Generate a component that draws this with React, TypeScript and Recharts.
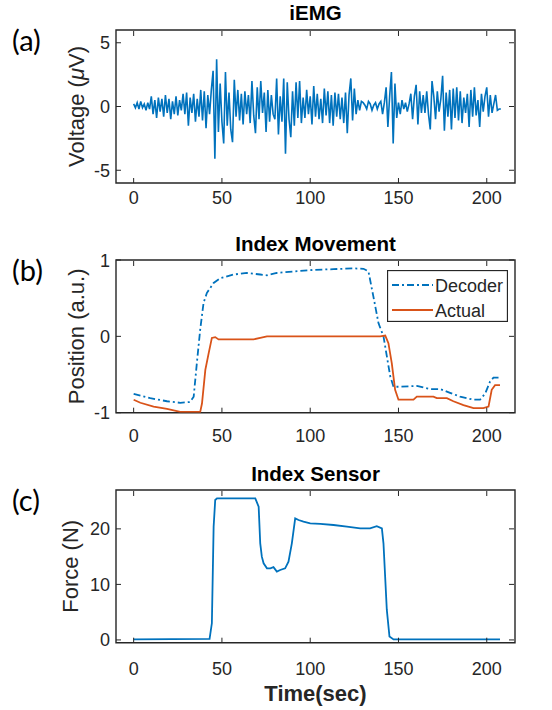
import React from "react";
import { LineChart, Line, XAxis, YAxis, Legend, ReferenceArea } from "recharts";

// ---------- data ----------
const xTicks = [0, 50, 100, 150, 200];

// iEMG (µV), one sample per second, t = 0..208
const emgValues = [
  0.2, -0.1, 0.3, -0.2, 0.4, -0.1, 0.2, -0.3, 0.3, -0.2,
  0.8, -0.6, 0.5, -0.9, 0.7, -0.4, 0.6, -0.8, 0.9, -0.5,
  0.6, -1.0, 0.4, -0.6, 0.8, -0.7, 0.5, -0.3, 1.0, -0.6,
  1.1, -1.5, 0.7, -0.5, 1.0, -1.2, 0.6, -0.8, 1.3, -1.1,
  1.2, -1.7, 0.9, -0.6, 1.3, 2.8, -4.1, 3.7, -2.0, 1.8,
  -1.2, -2.9, 2.7, -1.5, 1.1, -1.8, -2.8, 2.1, -0.8, 1.3,
  -1.1, 1.0, -1.4, 1.2, -0.6, 0.9, -1.3, 2.0, -0.7, -2.1,
  1.5, -1.0, 2.0, -0.5, 1.1, -2.0, 1.3, -1.2, 0.9, -0.6,
  -1.0, 2.2, -2.2, 0.8, -1.2, 2.2, -3.7, 1.9, -1.0, -2.4,
  1.2, -1.5, 1.9, -0.9, 2.0, -1.3, 0.7, -0.9, 1.3, -0.6,
  0.8, -1.4, 1.6, -0.8, 1.0, -1.0, 0.6, -1.3, 1.4, -0.7,
  1.2, -1.3, 0.9, -1.5, 1.1, -0.8, 1.0, -1.0, 0.7, -1.3,
  1.1, -2.1, 0.9, 2.2, -1.1, 1.4, -0.6, 0.5, -0.3, 0.4,
  0.3, 0.1, -0.2, 0.4, 0.2, -0.3, 0.1, 0.3, -0.2, 0.2,
  0.4, -0.6, 0.3, 1.5, -1.6, 0.8, 2.7, -2.9, 1.8, -0.9,
  0.3, -0.6, 0.5, -0.2, 0.3, -0.4, 0.2, 1.0, -1.0, 0.8,
  1.7, -1.4, 1.2, -0.5, 0.9, -0.5, 1.2, -0.6, -1.8, 2.0,
  0.8, -1.0, 1.2, -0.4, 0.6, 2.4, -1.9, 1.1, -0.8, 1.3,
  -1.8, 1.4, -0.9, 1.5, -1.1, 1.2, -1.3, 0.7, -0.5, 1.0,
  -1.6, 1.3, -0.8, 1.5, -0.7, 0.5, -1.6, 1.0, -0.4, 0.8,
  1.5, -0.8, 0.9, -0.5, 0.2, 0.9, -0.3, -0.2, -0.2,
];

// Index movement: decoder
const decTime = [0, 9.4, 18.9, 26.4, 32, 34, 35.8, 37.7, 39.6, 41.5, 45.3, 49, 56.6, 64.2, 71.7, 75.5, 81.1, 90.6, 101.9, 113.2, 124.5, 130.2, 133, 135.8, 138.7, 141.5, 143.4, 145.3, 147.2, 150.9, 160.4, 167.9, 173.6, 179.2, 184.9, 192.5, 196.2, 199.1, 201.9, 203.8, 207.5];
const decValues = [-0.755, -0.81, -0.85, -0.87, -0.86, -0.79, -0.35, 0.09, 0.44, 0.57, 0.7, 0.76, 0.81, 0.83, 0.81, 0.8, 0.83, 0.85, 0.87, 0.88, 0.89, 0.885, 0.85, 0.52, 0.17, 0, -0.26, -0.52, -0.66, -0.66, -0.65, -0.69, -0.69, -0.74, -0.79, -0.83, -0.83, -0.75, -0.59, -0.54, -0.54];

// Index movement: actual
const actTime = [0, 3.8, 11.3, 18.9, 26.4, 37.7, 38.7, 40.6, 42.5, 44.3, 46.2, 48.1, 56.6, 67.9, 71.7, 75.5, 139.6, 142.5, 144.3, 146.2, 148.1, 150, 158.5, 160.4, 169.8, 171.7, 177.4, 181.1, 186.8, 192.5, 198.1, 201, 202.8, 204.7, 207.5];
const actValues = [-0.83, -0.87, -0.92, -0.95, -0.99, -0.99, -0.88, -0.44, -0.22, -0.02, -0.01, -0.04, -0.04, -0.04, -0.02, 0, 0, 0.01, -0.09, -0.35, -0.7, -0.83, -0.83, -0.79, -0.79, -0.81, -0.81, -0.85, -0.9, -0.94, -0.94, -0.92, -0.7, -0.64, -0.64];

// Index sensor force (N)
const forceTime = [0, 43, 44.3, 45.3, 46.2, 47.2, 68.9, 70.8, 71.7, 72.6, 73.6, 75.5, 77.4, 79.2, 81.1, 83, 85.8, 87.7, 89.6, 91.5, 93.4, 96.2, 100, 105.7, 113.2, 120.8, 128.3, 133.9, 137.7, 140.6, 141.5, 143.4, 144.9, 147.2, 207.5];
const forceValues = [0.1, 0.2, 3, 20.4, 25.2, 25.5, 25.5, 24, 17.4, 15, 13.8, 12.9, 12.9, 13.1, 12.3, 12.6, 12.9, 14.1, 17.4, 21.9, 21.6, 21.3, 21.0, 20.9, 20.7, 20.4, 20.1, 20.1, 20.5, 20.1, 17.4, 5.4, 0.6, 0.1, 0.1];

// ---------- tables built from the arrays ----------
const emgData = emgValues.map((v, i) => ({ t: i, v }));
const decData = decTime.map((t, i) => ({ t, v: decValues[i] }));
const actData = actTime.map((t, i) => ({ t, v: actValues[i] }));
const forceData = forceTime.map((t, i) => ({ t, v: forceValues[i] }));

// ---------- styling ----------
const AX = "#262626";
const BLUE = "#0072BD";
const ORANGE = "#D95319";
const FONT = "'Liberation Sans', Arial, Helvetica, sans-serif";
const W = 552;
const XDOM: [number, number] = [-10, 216];
const TL = 5;
const MARGIN = { top: 29, right: 36, left: 56, bottom: 17 };

const makeBottomTick = (dy: number) => (p: any) => (
  <g>
    <line x1={p.x} x2={p.x} y1={p.y} y2={p.y - TL} stroke={AX} strokeWidth={1} />
    <text x={p.x} y={p.y + dy} textAnchor="middle" fontFamily={FONT} fontSize={18} fill={AX}>
      {p.payload.value}
    </text>
  </g>
);
const topTick = (p: any) => (
  <line x1={p.x} x2={p.x} y1={p.y + 1} y2={p.y + 1 + TL} stroke={AX} strokeWidth={1} />
);
const leftTick = (p: any) => (
  <g>
    <line x1={p.x} x2={p.x + TL} y1={p.y} y2={p.y} stroke={AX} strokeWidth={1} />
    <text x={p.x - 6} y={p.y + 6.5} textAnchor="end" fontFamily={FONT} fontSize={18} fill={AX}>
      {p.payload.value}
    </text>
  </g>
);
const rightTick = (p: any) => (
  <line x1={p.x - 1} x2={p.x - 1 - TL} y1={p.y} y2={p.y} stroke={AX} strokeWidth={1} />
);

const yLabel = (content: React.ReactNode, bx: number) => ({
  content: (props: any) => {
    const vb = props.viewBox || {};
    const cy = vb.y + vb.height / 2;
    return (
      <text
        transform={`translate(${bx},${cy}) rotate(-90)`}
        textAnchor="middle"
        fontFamily={FONT}
        fontSize={22}
        fill={AX}
      >
        {content}
      </text>
    );
  },
});

const timeLabel = {
  value: "Time(sec)",
  position: "insideBottom",
  content: (props: any) => {
    const vb = props.viewBox || {};
    return (
      <text
        x={vb.x + vb.width / 2}
        y={vb.y + 58}
        textAnchor="middle"
        fontFamily={FONT}
        fontSize={22}
        fontWeight="bold"
        fill={AX}
      >
        Time(sec)
      </text>
    );
  },
};

const LegendBox = () => (
  <svg width={121} height={52} style={{ display: "block" }}>
    <rect x={0.5} y={0.5} width={120} height={51} fill="#fff" stroke={AX} strokeWidth={1.3} />
    <line x1={5} x2={46} y1={15} y2={15} stroke={BLUE} strokeWidth={1.8} strokeDasharray="7 3 2 3" />
    <text x={48} y={21.5} fontFamily={FONT} fontSize={18} fill={AX}>Decoder</text>
    <line x1={5} x2={46} y1={40} y2={40} stroke={ORANGE} strokeWidth={1.8} />
    <text x={48} y={46.5} fontFamily={FONT} fontSize={18} fill={AX}>Actual</text>
  </svg>
);

export default function App() {
  return (
    <div style={{ position: "absolute", left: 0, top: 0, width: W, height: 710, background: "#fff" }}>
      {/* (a) iEMG */}
      <div style={{ position: "absolute", left: 0, top: 0 }}>
        <LineChart width={W} height={230} data={emgData} margin={MARGIN}>
          <XAxis xAxisId="b" dataKey="t" type="number" domain={XDOM} ticks={xTicks} allowDataOverflow height={30} tickSize={0} tickMargin={0} tickLine={false} axisLine={false} tick={makeBottomTick(21)} interval={0} />
          <XAxis xAxisId="t" dataKey="t" orientation="top" type="number" domain={XDOM} ticks={xTicks} allowDataOverflow height={1} tickSize={0} tickMargin={0} tickLine={false} axisLine={false} tick={topTick} interval={0} />
          <YAxis yAxisId="l" type="number" domain={[-6, 6]} ticks={[-5, 0, 5]} allowDataOverflow width={60} tickSize={0} tickMargin={0} tickLine={false} axisLine={false} tick={leftTick} interval={0}
            label={yLabel(<>{"Voltage ("}<tspan fontStyle="italic">μ</tspan>{"V)"}</>, 83.5)} />
          <YAxis yAxisId="r" orientation="right" type="number" domain={[-6, 6]} ticks={[-5, 0, 5]} allowDataOverflow width={1} tickSize={0} tickMargin={0} tickLine={false} axisLine={false} tick={rightTick} interval={0} />
          <ReferenceArea xAxisId="b" yAxisId="l" x1={XDOM[0]} x2={XDOM[1]} y1={-6} y2={6} fill="none" stroke={AX} strokeWidth={1.4} ifOverflow="visible" />
          <Line xAxisId="t" yAxisId="r" dataKey="v" stroke="none" dot={false} activeDot={false} legendType="none" isAnimationActive={false} />
          <Line xAxisId="b" yAxisId="l" dataKey="v" stroke={BLUE} strokeWidth={1.6} dot={false} isAnimationActive={false} type="linear" />
        </LineChart>
      </div>

      {/* (b) Index Movement */}
      <div style={{ position: "absolute", left: 0, top: 230 }}>
        <LineChart width={W} height={230} margin={{ ...MARGIN, bottom: 17.3 }}>
          <XAxis xAxisId="b" dataKey="t" type="number" domain={XDOM} ticks={xTicks} allowDataOverflow height={30} tickSize={0} tickMargin={0} tickLine={false} axisLine={false} tick={makeBottomTick(29)} interval={0} />
          <XAxis xAxisId="t" dataKey="t" orientation="top" type="number" domain={XDOM} ticks={xTicks} allowDataOverflow height={1} tickSize={0} tickMargin={0} tickLine={false} axisLine={false} tick={topTick} interval={0} />
          <YAxis yAxisId="l" type="number" domain={[-1, 1]} ticks={[-1, 0, 1]} allowDataOverflow width={60} tickSize={0} tickMargin={0} tickLine={false} axisLine={false} tick={leftTick} interval={0}
            label={yLabel("Position (a.u.)", 83.5)} />
          <YAxis yAxisId="r" orientation="right" type="number" domain={[-1, 1]} ticks={[-1, 0, 1]} allowDataOverflow width={1} tickSize={0} tickMargin={0} tickLine={false} axisLine={false} tick={rightTick} interval={0} />
          <ReferenceArea xAxisId="b" yAxisId="l" x1={XDOM[0]} x2={XDOM[1]} y1={-1} y2={1} fill="none" stroke={AX} strokeWidth={1.4} ifOverflow="visible" />
          <Line xAxisId="t" yAxisId="r" data={decData} dataKey="v" stroke="none" dot={false} activeDot={false} legendType="none" isAnimationActive={false} />
          <Line xAxisId="b" yAxisId="l" data={decData} dataKey="v" name="Decoder" stroke={BLUE} strokeWidth={1.8} strokeDasharray="7 3 2 3" dot={false} isAnimationActive={false} type="linear" />
          <Line xAxisId="b" yAxisId="l" data={actData} dataKey="v" name="Actual" stroke={ORANGE} strokeWidth={1.8} dot={false} isAnimationActive={false} type="linear" />
          <Legend
            layout="vertical"
            align="center"
            verticalAlign="middle"
            content={() => <LegendBox />}
            wrapperStyle={{ position: "absolute", left: 387, top: 40, width: 121, height: 52 }}
          />
        </LineChart>
      </div>

      {/* (c) Index Sensor */}
      <div style={{ position: "absolute", left: 0, top: 460 }}>
        <LineChart width={W} height={250} data={forceData} margin={{ ...MARGIN, bottom: 17.3 }}>
          <XAxis xAxisId="b" dataKey="t" type="number" domain={XDOM} ticks={xTicks} allowDataOverflow height={50} tickSize={0} tickMargin={0} tickLine={false} axisLine={false} tick={makeBottomTick(32)} interval={0} label={timeLabel} />
          <XAxis xAxisId="t" dataKey="t" orientation="top" type="number" domain={XDOM} ticks={xTicks} allowDataOverflow height={1} tickSize={0} tickMargin={0} tickLine={false} axisLine={false} tick={topTick} interval={0} />
          <YAxis yAxisId="l" type="number" domain={[-0.5, 27]} ticks={[0, 10, 20]} allowDataOverflow width={60} tickSize={0} tickMargin={0} tickLine={false} axisLine={false} tick={leftTick} interval={0}
            label={yLabel("Force (N)", 78)} />
          <YAxis yAxisId="r" orientation="right" type="number" domain={[-0.5, 27]} ticks={[0, 10, 20]} allowDataOverflow width={1} tickSize={0} tickMargin={0} tickLine={false} axisLine={false} tick={rightTick} interval={0} />
          <ReferenceArea xAxisId="b" yAxisId="l" x1={XDOM[0]} x2={XDOM[1]} y1={-0.5} y2={27} fill="none" stroke={AX} strokeWidth={1.4} ifOverflow="visible" />
          <Line xAxisId="t" yAxisId="r" dataKey="v" stroke="none" dot={false} activeDot={false} legendType="none" isAnimationActive={false} />
          <Line xAxisId="b" yAxisId="l" dataKey="v" stroke={BLUE} strokeWidth={1.8} dot={false} isAnimationActive={false} type="linear" />
        </LineChart>
      </div>

      {/* titles and panel letters */}
      <svg width={W} height={710} style={{ position: "absolute", left: 0, top: 0, pointerEvents: "none" }}>
        <g fontFamily={FONT} fontSize={20.5} fontWeight="bold" fill="#000" textAnchor="middle">
          <text x={315.5} y={20}>iEMG</text>
          <text x={315.5} y={250.5}>Index Movement</text>
          <text x={315.5} y={480.5}>Index Sensor</text>
        </g>
        <g fontFamily="Lato, 'Open Sans', sans-serif" fontSize={29} fill="#000">
          <text x={12} y={51}>(a)</text>
          <text x={12} y={281}>(b)</text>
          <text x={12} y={511}>(c)</text>
        </g>
      </svg>
    </div>
  );
}
